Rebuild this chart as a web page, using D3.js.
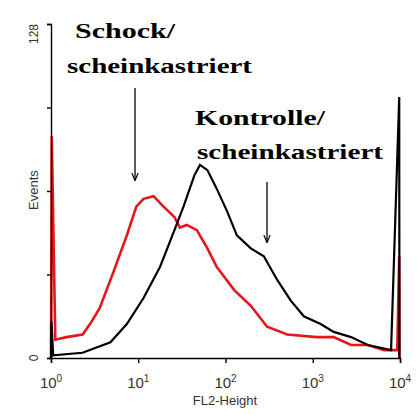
<!DOCTYPE html><html><head><script src="https://cdn.jsdelivr.net/npm/d3@7"></script>
<style>body{margin:0;background:#fff}</style></head><body><svg id="c" width="419" height="414"></svg>
<script>
const redX=[1.0,1.02,1.12,1.5,2.3,2.8,3.6,5.2,7.4,9.5,11.5,15,19.5,26,30,36,47,62,79,126,195,300,510,1120,1740,2750,4270,6600,9300,9800,9850];
const redY=[0,85,7,8,9,13,19,33,47,58,61,62,58,54,50,51,49,42,35,26,20,12,9,8,8,5,5,3,3,39,0];
const blkX=[1.0,1.01,1.06,2.3,4.8,7.4,11.5,17.8,26,33,44,51,62,79,105,135,195,275,390,560,790,1230,1740,2750,4270,7900,9800,9850];
const blkY=[0,14,1,2,6,13,23,35,49,58,70,74,72,65,56,47,42,39,30,22,16,13,10,8,5,3,100,0];
const xTicks=[1,10,100,1000,10000];
const yTicks=[0,32,64,96,128];
const svg=d3.select("#c");
const x=d3.scaleLog().domain([1,10000]).range([51,400]);
const y=d3.scaleLinear().domain([0,128]).range([358,24]);
const line=d3.line().x(d=>x(d[0])).y(d=>y(d[1]));
svg.append("path").datum(redX.map((v,i)=>[v,redY[i]])).attr("d",line).attr("fill","none").attr("stroke","#e8141c").attr("stroke-width",2.6);
svg.append("path").datum(blkX.map((v,i)=>[v,blkY[i]])).attr("d",line).attr("fill","none").attr("stroke","#000").attr("stroke-width",2.2);
const ax=svg.append("g").attr("transform","translate(0,358)").call(d3.axisBottom(x).tickValues(xTicks).tickSize(5).tickFormat(""));
const ay=svg.append("g").attr("transform","translate(51,0)").call(d3.axisLeft(y).tickValues(yTicks).tickSize(4).tickFormat(""));
[ax,ay].forEach(g=>{g.selectAll("path,line").attr("stroke","#000").attr("stroke-width",1.4);});
const sup=["0","1","2","3","4"];
xTicks.forEach((t,i)=>{const tx=svg.append("text").attr("x",x(t)).attr("y",388).attr("text-anchor","middle").attr("font-family","Liberation Sans").attr("font-size",15).attr("fill","#333");
tx.append("tspan").text("10");tx.append("tspan").attr("dy",-6).attr("font-size",10).text(sup[i]);});
svg.append("text").attr("x",225).attr("y",405).attr("text-anchor","middle").attr("font-family","Liberation Sans").attr("font-size",13).attr("fill","#333").text("FL2-Height");
svg.append("text").attr("transform","translate(38,190) rotate(-90)").attr("text-anchor","middle").attr("font-family","Liberation Sans").attr("font-size",13).attr("fill","#333").text("Events");
svg.append("text").attr("transform","translate(38,"+y(128)+") rotate(-90)").attr("text-anchor","end").attr("font-family","Liberation Sans").attr("font-size",12).attr("fill","#333").text("128");
svg.append("text").attr("transform","translate(38,"+y(0)+") rotate(-90)").attr("text-anchor","middle").attr("font-family","Liberation Sans").attr("font-size",12).attr("fill","#333").text("0");
const lab=(t,xx,yy,w)=>svg.append("text").attr("x",xx).attr("y",yy).style("font-family","'Liberation Serif','DejaVu Serif',serif").attr("font-weight","bold").attr("font-size",22).attr("textLength",w).attr("lengthAdjust","spacingAndGlyphs").text(t);
lab("Schock/",75,38,100);lab("scheinkastriert",67,73,185);lab("Kontrolle/",195,125,130);lab("scheinkastriert",197,159,186);
svg.append("defs").append("marker").attr("id","ah").attr("viewBox","0 0 10 10").attr("refX",9).attr("refY",5).attr("markerWidth",6).attr("markerHeight",8).attr("orient","auto").append("path").attr("d","M0,1L10,5L0,9").attr("fill","none").attr("stroke","#000").attr("stroke-width",1.5);
[[135,88,180],[267,182,242]].forEach(a=>svg.append("line").attr("x1",a[0]).attr("x2",a[0]).attr("y1",a[1]).attr("y2",a[2]).attr("stroke","#000").attr("stroke-width",1.3).attr("marker-end","url(#ah)"));
</script></body></html>
